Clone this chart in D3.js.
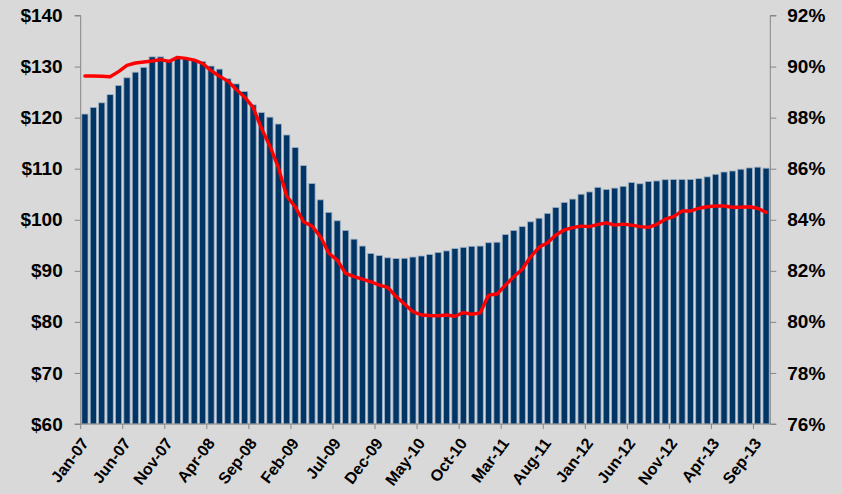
<!DOCTYPE html>
<html>
<head>
<meta charset="utf-8">
<script src="https://cdn.jsdelivr.net/npm/d3@7"></script>
<style>
  html, body { margin: 0; padding: 0; background: #d9d9d9; }
  svg { display: block; }
  text { font-family: Arial, "Liberation Sans", sans-serif; font-weight: bold; fill: #000; }
</style>
</head>
<body>
<svg id="chart" width="842" height="494"></svg>
<script>
// Monthly categories, Jan-07 through Oct-13
const startMonth = new Date(2007, 0, 1);
const months = d3.timeMonths(startMonth, new Date(2013, 10, 1));

// Bars: average value in dollars (left axis)
const priceValues = [
  120.7, 122.0, 122.9, 124.5, 126.3, 127.8, 128.9, 129.85, 131.9, 131.9,
  131.3, 131.8, 131.6, 131.3, 131.0, 130.1, 129.5, 127.6, 126.6, 125.1,
  122.5, 121.0, 120.1, 118.75, 116.6, 114.15, 110.6, 107.1, 103.9, 101.45,
  99.8, 97.9, 96.2, 94.85, 93.4, 93.0, 92.55, 92.4, 92.45, 92.7,
  92.9, 93.2, 93.6, 93.9, 94.35, 94.6, 94.8, 94.85, 95.5, 95.6,
  97.1, 97.9, 98.65, 99.6, 100.3, 101.25, 102.4, 103.4, 104.05, 105.0,
  105.45, 106.35, 105.95, 106.2, 106.55, 107.3, 107.05, 107.5, 107.6, 107.85,
  107.9, 107.9, 107.9, 108.05, 108.4, 108.9, 109.35, 109.55, 109.9, 110.15,
  110.3, 110.1
];

// Line: ratio in percent (right axis)
const ratioValues = [
  89.63, 89.63, 89.62, 89.6, 89.8, 90.05, 90.14, 90.18, 90.22, 90.27,
  90.2, 90.36, 90.32, 90.25, 90.12, 89.84, 89.62, 89.43, 89.1, 88.8,
  88.4, 87.57, 86.88, 86.05, 84.92, 84.51, 83.92, 83.75, 83.34, 82.69,
  82.42, 81.9, 81.77, 81.67, 81.57, 81.44, 81.35, 80.99, 80.7, 80.4,
  80.27, 80.25, 80.24, 80.27, 80.22, 80.36, 80.3, 80.35, 81.05, 81.09,
  81.44, 81.77, 82.06, 82.55, 82.92, 83.1, 83.4, 83.6, 83.69, 83.75,
  83.73, 83.82, 83.88, 83.79, 83.83, 83.79, 83.73, 83.7, 83.82, 84.02,
  84.12, 84.34, 84.34, 84.45, 84.51, 84.54, 84.54, 84.49, 84.49, 84.51,
  84.45, 84.29
];

const leftTicks = [60, 70, 80, 90, 100, 110, 120, 130, 140];
const rightTicks = [76, 78, 80, 82, 84, 86, 88, 90, 92];
const labelEvery = 5;

const fmtMonth = d3.timeFormat("%b-%y");
const data = months.map((m, i) => ({ month: m, key: fmtMonth(m), price: priceValues[i], ratio: ratioValues[i] }));

const svg = d3.select("#chart");
const plot = { left: 80.7, right: 770.3, top: 15.5, bottom: 424 };

const x = d3.scaleBand()
  .domain(data.map(d => d.key))
  .range([plot.left, plot.right])
  .paddingInner(0.26)
  .paddingOuter(0.13);

const yLeft = d3.scaleLinear().domain([60, 140]).range([plot.bottom, plot.top]);
const yRight = d3.scaleLinear().domain([76, 92]).range([plot.bottom, plot.top]);

// Bars
svg.append("g")
  .selectAll("rect")
  .data(data)
  .join("rect")
  .attr("x", d => x(d.key))
  .attr("y", d => yLeft(d.price))
  .attr("width", x.bandwidth())
  .attr("height", d => yLeft(60) - yLeft(d.price))
  .attr("fill", "#013566")
  .attr("stroke", "#9fb1c4")
  .attr("stroke-width", 0.8);

// Ratio line
const line = d3.line()
  .x(d => x(d.key) + x.bandwidth() / 2)
  .y(d => yRight(d.ratio))
  .curve(d3.curveLinear);

svg.append("path")
  .datum(data)
  .attr("d", line)
  .attr("fill", "none")
  .attr("stroke", "#ff0000")
  .attr("stroke-width", 3.4)
  .attr("stroke-linejoin", "round")
  .attr("stroke-linecap", "round");

// Left axis
const axisLeft = svg.append("g")
  .attr("transform", `translate(${plot.left},0)`)
  .call(d3.axisLeft(yLeft).tickValues(leftTicks).tickSize(6).tickPadding(12).tickFormat(d => "$" + d));
axisLeft.selectAll("text").style("font-size", "19px");

// Right axis
const axisRight = svg.append("g")
  .attr("transform", `translate(${plot.right},0)`)
  .call(d3.axisRight(yRight).tickValues(rightTicks).tickSize(6).tickPadding(11).tickFormat(d => d + "%"));
axisRight.selectAll("text").style("font-size", "19px");

// Bottom axis: ticks on category boundaries every five months
const step = x.step();
const tickKeys = data.filter((d, i) => i % labelEvery === 0).map(d => d.key);
const bottom = svg.append("g").attr("transform", `translate(0,${plot.bottom})`);
bottom.append("line")
  .attr("x1", plot.left).attr("x2", plot.right)
  .attr("stroke", "#868686").attr("stroke-width", 1);
bottom.selectAll(".tk")
  .data(tickKeys)
  .join("line")
  .attr("class", "tk")
  .attr("x1", k => x(k) - step * x.paddingOuter())
  .attr("x2", k => x(k) - step * x.paddingOuter())
  .attr("y1", 0).attr("y2", 5)
  .attr("stroke", "#868686");
bottom.selectAll(".lbl")
  .data(tickKeys)
  .join("text")
  .attr("class", "lbl")
  .attr("transform", k => `translate(${x(k) + x.bandwidth() / 2},16) rotate(-53)`)
  .attr("text-anchor", "end")
  .attr("dy", "0.35em")
  .style("font-size", "16px")
  .text(k => k);

// Axis styling
svg.selectAll(".domain").attr("stroke", "#868686");
svg.selectAll(".tick line").attr("stroke", "#868686");
axisLeft.select(".domain").attr("d", `M-6,${plot.top}H0V${plot.bottom}H-6`);
axisRight.select(".domain").attr("d", `M6,${plot.top}H0V${plot.bottom}H6`);
</script>
</body>
</html>
